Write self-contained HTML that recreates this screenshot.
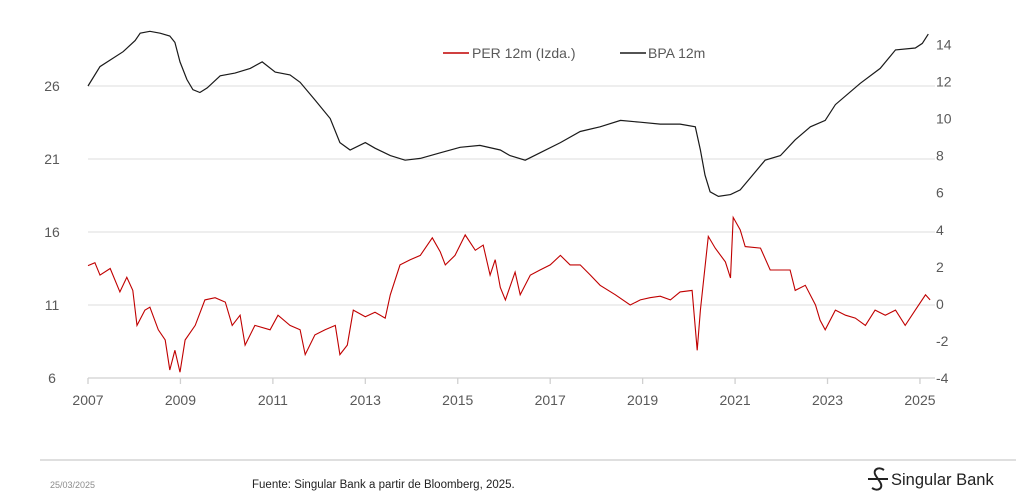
<!DOCTYPE html>
<html><head><meta charset="utf-8"><style>
html,body{margin:0;padding:0;background:#fff;width:1016px;height:496px;overflow:hidden;font-family:"Liberation Sans",sans-serif}
svg text{font-family:"Liberation Sans",sans-serif}
</style></head><body>
<svg id="chart" width="1016" height="496" xmlns="http://www.w3.org/2000/svg">
<g id="grid"></g>
<g id="axes"></g>
<path id="bpa" fill="none" stroke="#1a1a1a" stroke-width="1.2"/>
<path id="per" fill="none" stroke="#c00000" stroke-width="1.1"/>
<g>
<line x1="443" y1="53" x2="469" y2="53" stroke="#c00000" stroke-width="1.5"/>
<text x="472" y="58" font-size="14" fill="#595959">PER 12m (Izda.)</text>
<line x1="620" y1="53" x2="646" y2="53" stroke="#1a1a1a" stroke-width="1.5"/>
<text x="648" y="58" font-size="14" fill="#595959">BPA 12m</text>
</g>
<line x1="40" y1="460" x2="1016" y2="460" stroke="#bfbfbf" stroke-width="1"/>
<text x="50" y="488" font-size="9" fill="#8c8c8c">25/03/2025</text>
<text x="252" y="488" font-size="11.5" fill="#222">Fuente: Singular Bank a partir de Bloomberg, 2025.</text>
<g>
<path d="M884 470 C878 466 872 470 876 476 L880 482 C884 488 878 492 872 488 M868 479 H888" fill="none" stroke="#222" stroke-width="2"/>
<text x="891" y="485" font-size="16.5" fill="#222">Singular Bank</text>
</g>
</svg>
<script>
const perYears=[0,0.15,0.26,0.48,0.69,0.84,0.97,1.06,1.23,1.34,1.52,1.67,1.77,1.88,1.99,2.10,2.32,2.53,2.75,2.97,3.12,3.29,3.40,3.61,3.94,4.11,4.37,4.59,4.70,4.91,5.13,5.35,5.45,5.61,5.74,6.00,6.21,6.43,6.54,6.75,6.97,7.19,7.45,7.62,7.73,7.94,8.16,8.38,8.55,8.70,8.81,8.92,9.03,9.24,9.35,9.57,9.78,10.0,10.22,10.43,10.65,10.87,11.08,11.41,11.73,11.95,12.16,12.38,12.60,12.81,13.07,13.18,13.25,13.42,13.57,13.79,13.90,13.96,14.11,14.22,14.55,14.76,14.98,15.19,15.30,15.52,15.74,15.84,15.95,16.17,16.39,16.60,16.82,17.03,17.25,17.47,17.68,17.90,18.12,18.22];
const perValues=[13.7,13.9,13.05,13.5,11.9,12.9,12.0,9.6,10.65,10.85,9.3,8.6,6.55,7.9,6.4,8.6,9.6,11.35,11.5,11.2,9.6,10.3,8.25,9.6,9.3,10.3,9.6,9.3,7.6,8.95,9.3,9.6,7.6,8.25,10.65,10.2,10.5,10.1,11.7,13.75,14.1,14.4,15.6,14.65,13.75,14.4,15.8,14.75,15.1,13.05,14.1,12.2,11.35,13.25,11.7,13.05,13.4,13.75,14.4,13.75,13.75,13.05,12.35,11.7,11.0,11.35,11.5,11.6,11.35,11.9,12.0,7.9,10.65,15.7,14.9,13.95,12.85,17.0,16.15,15.0,14.9,13.4,13.4,13.4,12.0,12.35,11.0,9.95,9.3,10.65,10.3,10.1,9.6,10.65,10.3,10.65,9.6,10.65,11.7,11.35];
const bpaYears=[0,0.26,0.76,1.02,1.13,1.34,1.56,1.77,1.88,1.99,2.14,2.27,2.42,2.58,2.86,3.18,3.51,3.77,4.05,4.37,4.59,4.91,5.24,5.45,5.67,6.00,6.21,6.54,6.86,7.19,7.62,8.05,8.48,8.92,9.13,9.46,9.78,10.22,10.65,11.08,11.52,11.95,12.38,12.81,13.14,13.25,13.35,13.46,13.64,13.90,14.11,14.33,14.65,14.98,15.30,15.63,15.95,16.17,16.71,17.14,17.47,17.90,18.05,18.18];
const bpaValues=[11.75,12.8,13.6,14.2,14.6,14.7,14.6,14.45,14.1,13.05,12.1,11.55,11.4,11.65,12.3,12.45,12.7,13.05,12.5,12.35,11.95,11.0,10.0,8.7,8.3,8.7,8.4,8.0,7.75,7.85,8.15,8.45,8.55,8.3,8.0,7.75,8.15,8.7,9.3,9.55,9.9,9.8,9.7,9.7,9.55,8.3,6.95,6.05,5.8,5.9,6.15,6.8,7.75,8.0,8.85,9.55,9.9,10.75,11.9,12.7,13.7,13.8,14.05,14.55];
const leftTicks=[6,11,16,21,26];
const rightTicks=[-4,-2,0,2,4,6,8,10,12,14];
const xTicks=[2007,2009,2011,2013,2015,2017,2019,2021,2023,2025];

const NS="http://www.w3.org/2000/svg";
const xs=y=>88+(y-2007)*46.22;
const yl=v=>378-(v-6)*14.6;
const yr=v=>304-v*18.55;
function mk(tag,attrs,parent,txt){const e=document.createElementNS(NS,tag);for(const k in attrs)e.setAttribute(k,attrs[k]);if(txt!==undefined)e.textContent=txt;parent.appendChild(e);return e;}
const grid=document.getElementById('grid'),axes=document.getElementById('axes');
leftTicks.forEach(t=>{
  if(t>6){const l=mk('line',{x1:88,x2:935,y1:yl(t),y2:yl(t),stroke:'#e3e3e3','stroke-width':1.3},grid);
  
  }
  const tx=mk('text',{x:52,y:yl(t)+5,'font-size':14,fill:'#595959','text-anchor':'middle'},axes,String(t));
  
  
});
rightTicks.forEach(t=>{
  const tx=mk('text',{x:936,y:yr(t)+5,'font-size':14,fill:'#595959'},axes,String(t));
  
  
});
const ax=mk('line',{x1:88,x2:935,y1:378,y2:378,stroke:'#d0d0d0','stroke-width':1.3},axes);


xTicks.forEach(t=>{
  const tk=mk('line',{x1:xs(t),x2:xs(t),y1:378,y2:384,stroke:'#d0d0d0','stroke-width':1.3},axes);
  
  
  const tx=mk('text',{x:xs(t),y:405,'font-size':14,fill:'#595959','text-anchor':'middle'},axes,String(t));
  
  
});
function path(yrs,vals,f){return yrs.map((y,i)=>(i?'L':'M')+xs(2007+y).toFixed(1)+' '+f(vals[i]).toFixed(1)).join(' ');}
document.getElementById('per').setAttribute('d',path(perYears,perValues,yl));
document.getElementById('bpa').setAttribute('d',path(bpaYears,bpaValues,yr));
</script>
</body></html>
